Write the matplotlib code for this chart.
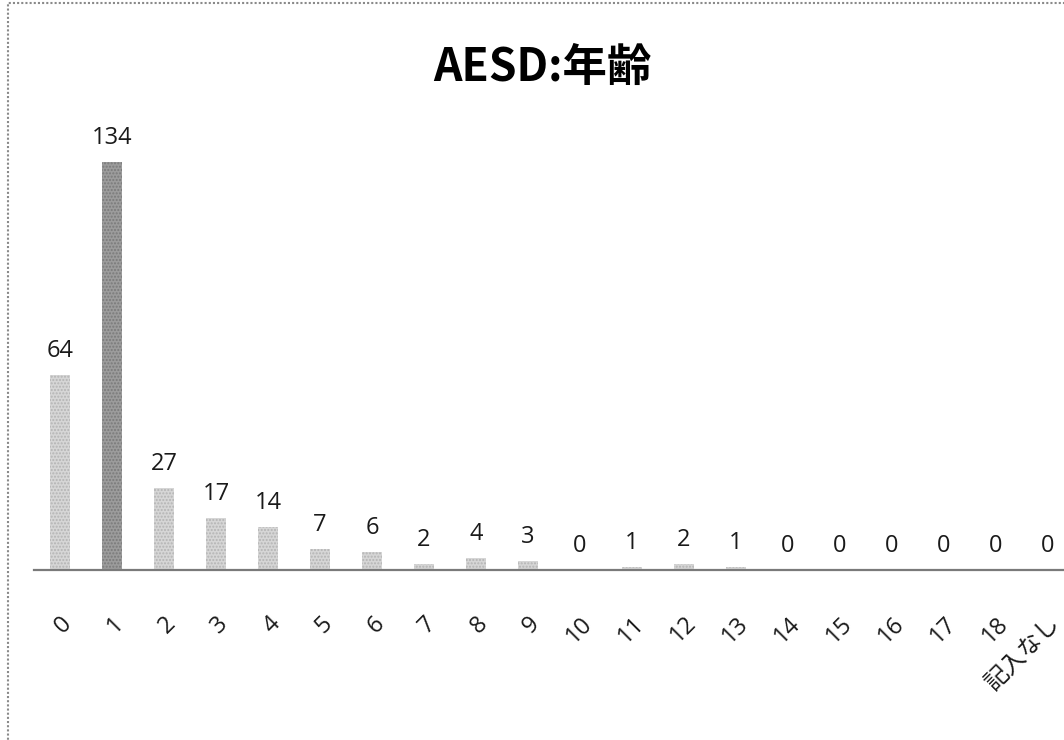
import matplotlib
matplotlib.use("Agg")
import matplotlib.pyplot as plt
from matplotlib.patches import Rectangle

# data
ages = [str(i) for i in range(19)] + ["記入なし"]
counts = [64, 134, 27, 17, 14, 7, 6, 2, 4, 3, 0, 1, 2, 1, 0, 0, 0, 0, 0, 0]
highlight = 1  # most frequent age

plt.rcParams['font.family'] = ['Open Sans', 'Noto Sans CJK JP', 'DejaVu Sans']

fig = plt.figure(figsize=(10.64, 7.40), dpi=100)
W, H = 1064, 740
# plot area in pixels: left 34, right 1064, baseline at 570 from top
ax = fig.add_axes([34 / W, (H - 570) / H, 1030 / W, 441 / H])

x = list(range(len(ages)))
colors = ['#d6d6d6'] * len(ages)
colors[highlight] = '#9c9c9c'
edges = ['#b4b4b4'] * len(ages)
edges[highlight] = '#7a7a7a'
bars = ax.bar(x, counts, width=0.4, color=colors, edgecolor=edges,
              linewidth=0, hatch='.....')

for xi, v in zip(x, counts):
    ax.text(xi, v + 4, str(v), ha='center', va='bottom', fontsize=17,
            color='#1a1a1a')

ax.set_xlim(-0.5, 19.31)
ax.set_ylim(0, 145)
ax.set_xticks(x)
ax.set_xticklabels(ages, rotation=45, ha='right', rotation_mode='anchor',
                   fontsize=17, color='#1a1a1a')
ax.tick_params(axis='x', length=0, pad=30)
ax.set_yticks([])
for s in ['top', 'right', 'left']:
    ax.spines[s].set_visible(False)
ax.spines['bottom'].set_color('#7a7a7a')
ax.spines['bottom'].set_linewidth(1.6)

fig.text(542 / W, 1 - 68 / H, "AESD:年齢", ha='center', va='center',
         fontsize=32, fontweight='bold', family=['Noto Sans CJK JP'])

# chart frame
fig.patches.append(Rectangle((8 / W, -0.05), 1.1, 1.05 - 3 / H,
                             transform=fig.transFigure, fill=False,
                             edgecolor='#8a8a8a', linewidth=1.5,
                             linestyle=(0, (1, 1))))

fig.savefig("out.png", dpi=100)
